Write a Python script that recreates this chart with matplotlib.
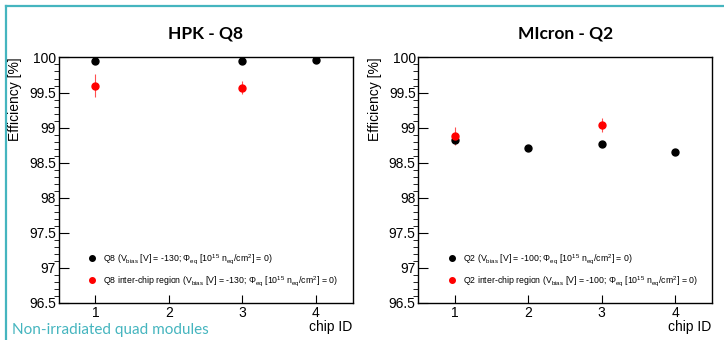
import matplotlib
matplotlib.use("Agg")
import matplotlib.pyplot as plt
from matplotlib.ticker import MultipleLocator, FormatStrFormatter
from matplotlib.lines import Line2D

plt.rcParams['font.family'] = ['Liberation Sans', 'DejaVu Sans']
plt.rcParams['mathtext.fontset'] = 'custom'
plt.rcParams['mathtext.rm'] = 'Liberation Sans'
plt.rcParams['mathtext.it'] = 'Liberation Sans:italic'

# HPK - Q8
q8_chip = [1, 3, 4]
q8_eff = [99.95, 99.95, 99.97]
q8_err = [0.01, 0.01, 0.01]
q8_ic_chip = [1, 3]
q8_ic_eff = [99.60, 99.57]
q8_ic_err = [0.17, 0.09]

# Micron - Q2
q2_chip = [1, 2, 3, 4]
q2_eff = [98.82, 98.71, 98.77, 98.65]
q2_err = [0.02, 0.01, 0.01, 0.01]
q2_ic_chip = [1, 3]
q2_ic_eff = [98.88, 99.04]
q2_ic_err = [0.13, 0.10]

teal = '#45b5bf'

fig = plt.figure(figsize=(7.24, 3.40), dpi=100)

# cadre turquoise
fig.add_artist(Line2D([6 / 724, 1], [1 - 6 / 340] * 2, color=teal, lw=1.6))
fig.add_artist(Line2D([6 / 724] * 2, [0, 1 - 6 / 340], color=teal, lw=1.6))


def panel(rect, title, chip, eff, err, ic_chip, ic_eff, ic_err, name, vbias):
    ax = fig.add_axes(rect)
    ax.errorbar(chip, eff, yerr=err, fmt='o', color='black', ms=5,
                elinewidth=0.8, capsize=0)
    ax.errorbar(ic_chip, ic_eff, yerr=ic_err, fmt='o', color='red', ms=5,
                elinewidth=0.8, capsize=0, ecolor='#ff5050')
    # entrées de légende (points seuls)
    h1 = Line2D([], [], ls='none', marker='o', color='black', ms=4)
    h2 = Line2D([], [], ls='none', marker='o', color='red', ms=4)
    lab1 = r'%s (V$_{\rm bias}$ [V] = %s; $\Phi_{\rm eq}$ [10$^{15}$ n$_{\rm eq}$/cm$^{2}$] = 0)' % (name, vbias)
    lab2 = r'%s inter-chip region (V$_{\rm bias}$ [V] = %s; $\Phi_{\rm eq}$ [10$^{15}$ n$_{\rm eq}$/cm$^{2}$] = 0)' % (name, vbias)
    ax.set_xlim(0.5, 4.5)
    ax.set_ylim(96.5, 100)
    ax.set_xticks([1, 2, 3, 4])
    ax.yaxis.set_major_locator(MultipleLocator(0.5))
    ax.yaxis.set_minor_locator(MultipleLocator(0.1))
    ax.yaxis.set_major_formatter(FormatStrFormatter('%g'))
    ax.tick_params(direction='in', labelsize=10, pad=2, width=0.8)
    ax.tick_params(axis='y', which='major', length=7)
    ax.tick_params(axis='y', which='minor', length=3.5, width=0.6)
    ax.tick_params(axis='x', which='major', length=6)
    for s in ax.spines.values():
        s.set_linewidth(1.0)
    ax.set_ylabel('Efficiency [%]', loc='top', fontsize=10)
    ax.yaxis.set_label_coords(-0.125, 1.0)
    ax.set_xlabel('chip ID', loc='right', fontsize=10, labelpad=0)
    ax.set_title(title, fontsize=12.5, fontweight='bold', family='Lato', pad=14)
    ax.legend([h1, h2], [lab1, lab2], loc='lower left', bbox_to_anchor=(0.07, 0.03),
              frameon=False, fontsize=6.3, labelspacing=0.95, handletextpad=0.6,
              handlelength=1.2)
    return ax


panel([0.081, 0.109, 0.406, 0.722], 'HPK - Q8', q8_chip, q8_eff, q8_err,
      q8_ic_chip, q8_ic_eff, q8_ic_err, 'Q8', '-130')
panel([0.578, 0.109, 0.405, 0.722], 'MIcron - Q2', q2_chip, q2_eff, q2_err,
      q2_ic_chip, q2_ic_eff, q2_ic_err, 'Q2', '-100')

fig.text(12 / 724, 1 - 330 / 340, 'Non-irradiated quad modules', color=teal,
         fontsize=11, family='Lato', va='center', ha='left')

fig.savefig('out.png', dpi=100)
